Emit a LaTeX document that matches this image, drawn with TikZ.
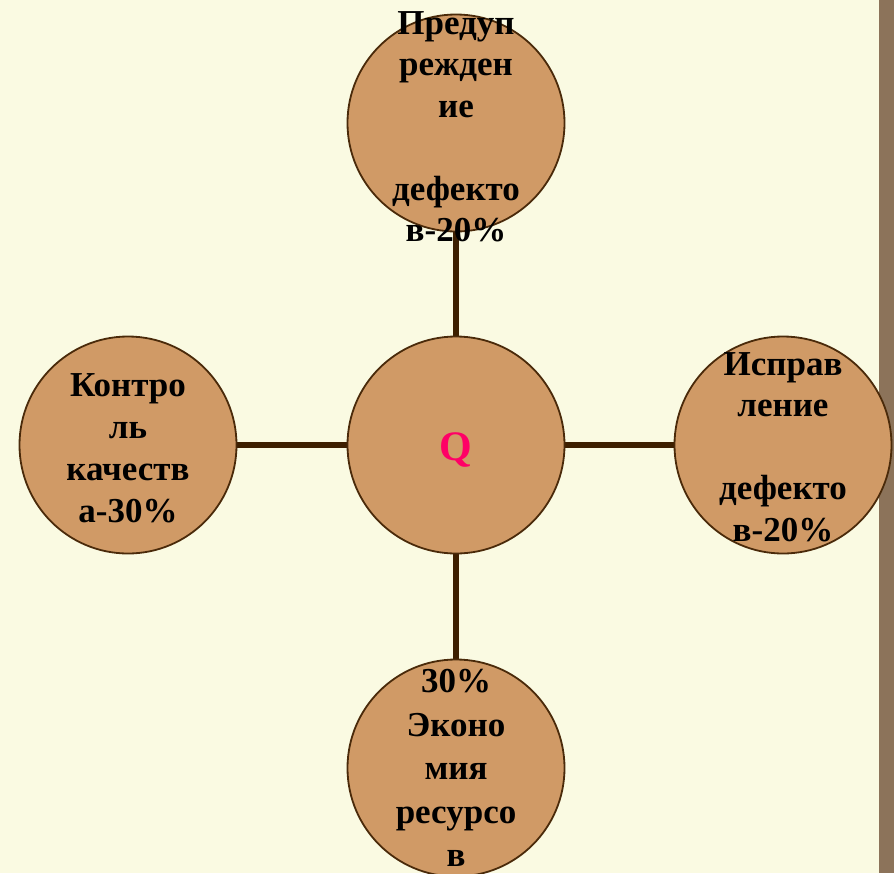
\documentclass[tikz,border=0pt]{standalone}
\usepackage{fontspec}
\setmainfont{Liberation Serif}
\definecolor{bgcol}{HTML}{FAFAE2}
\definecolor{stripcol}{HTML}{8C735A}
\definecolor{circfill}{HTML}{D09A66}
\definecolor{circline}{HTML}{4A2A0A}
\definecolor{linkcol}{HTML}{3D1F00}
\definecolor{qcol}{HTML}{FF0066}
\tikzset{
  bubble/.style={circle, draw=circline, line width=1.8pt, fill=circfill, minimum size=217pt, inner sep=0pt},
  bubbletext/.style={align=center, font=\fontsize{35}{41.5}\selectfont\bfseries, text=black, inner sep=0pt},
  link/.style={draw=linkcol, line width=6pt}
}
\begin{document}
\begin{tikzpicture}[x=1pt,y=-1pt]
\useasboundingbox (0,0) rectangle (894,873);
\fill[bgcol] (0,0) rectangle (894,873);
\fill[stripcol] (879,0) rectangle (894,873);
% positions
\coordinate (pc) at (456,445);
\coordinate (pt) at (456,123);
\coordinate (pr) at (783,445);
\coordinate (pl) at (128,445);
\coordinate (pb) at (456,768);
% links behind
\draw[link] (pc) -- (pt);
\draw[link] (pc) -- (pr);
\draw[link] (pc) -- (pl);
\draw[link] (pc) -- (pb);
% circles
\node[bubble] (c) at (pc) {};
\node[bubble] (t) at (pt) {};
\node[bubble] (r) at (pr) {};
\node[bubble] (l) at (pl) {};
\node[bubble] (b) at (pb) {};
% texts
\node[bubbletext, text=qcol, font=\fontsize{42}{50}\selectfont\bfseries] (ct) at (456,450) {Q};
\node[bubbletext] (tt) at (456,127) {Предуп\\режден\\ие\\\mbox{}\\дефекто\\в-20\%};
\node[bubbletext] (rt) at (783,447) {Исправ\\ление\\\mbox{}\\дефекто\\в-20\%};
\node[bubbletext, font=\fontsize{35}{42}\selectfont\bfseries] (lt) at (128,448) {Контро\\ль\\качеств\\а-30\%};
\node[bubbletext, font=\fontsize{35}{43.5}\selectfont\bfseries] (bt) at (456,768) {30\%\\Эконо\\мия\\ресурсо\\в};
\end{tikzpicture}
\end{document}
